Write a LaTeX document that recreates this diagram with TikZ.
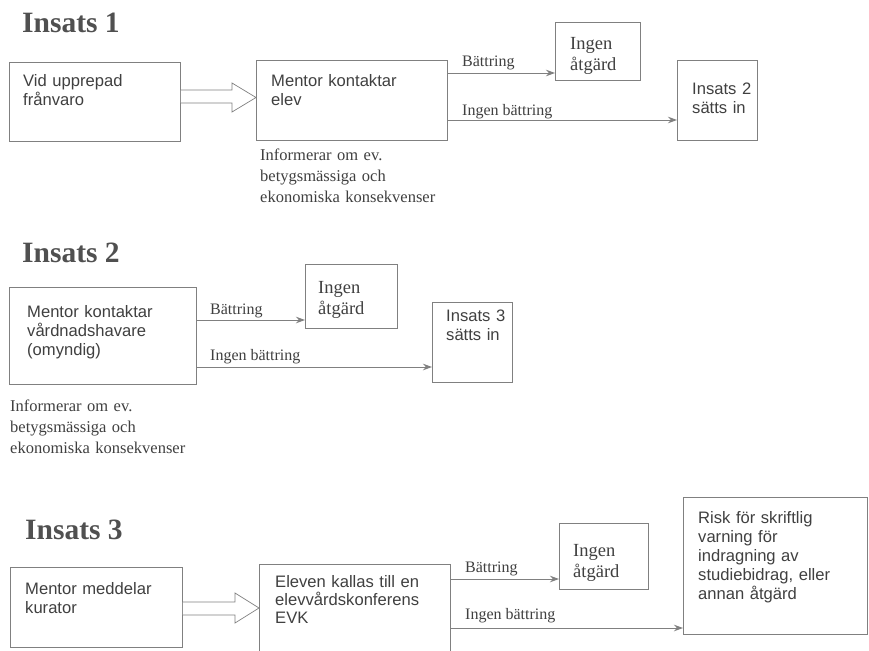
\documentclass[tikz,border=0pt]{standalone}
\usepackage{fontspec}
\setmainfont{Liberation Serif}
\setsansfont{Liberation Sans}
\usetikzlibrary{calc,arrows.meta}
\definecolor{ln}{HTML}{808080}
\definecolor{tx}{HTML}{404040}
\definecolor{tt}{HTML}{505050}
\begin{document}
\begin{tikzpicture}[x=1pt,y=-1pt,
  box/.style={draw=ln, line width=0.8pt, anchor=north west, inner sep=0pt},
  stxt/.style={font=\sffamily\fontsize{16.6}{19}\selectfont, text=tx, anchor=base west, inner sep=0pt, text width=#1, align=left},
  rtxt/.style={font=\fontsize{18.5}{21}\selectfont, text=tx, anchor=base west, inner sep=0pt, text width=#1, align=left},
  itxt/.style={font=\fontsize{16.5}{21}\selectfont, text=tx, anchor=base west, inner sep=0pt, text width=#1, align=left},
  lbl/.style={font=\fontsize{16}{18}\selectfont, text=tx, anchor=base west, inner sep=0pt},
  ttl/.style={font=\bfseries\fontsize{29.5}{34}\selectfont, text=tt, anchor=base west, inner sep=0pt},
  arr/.style={draw=ln, line width=0.9pt, -{Stealth[length=9pt,width=6.5pt]}},
  blk/.style={draw=ln, line width=0.7pt, fill=white, line join=miter}]
\useasboundingbox[fill=white] (0,0) rectangle (869,650);

% ---------- Insats 1 ----------
\node[ttl] (t1) at (22,33) {Insats 1};
\node[box, minimum width=171pt, minimum height=79pt] (a1) at (9,62) {};
\node[box, minimum width=191pt, minimum height=80pt] (m1) at (256,60) {};
\node[box, minimum width=85pt, minimum height=58pt] (i1) at (555,22) {};
\node[box, minimum width=80pt, minimum height=80pt] (s2) at (677,60) {};
\node[stxt=150pt] (a1t) at (23,87) {Vid upprepad\\frånvaro};
\node[stxt=170pt] (m1t) at (271,87) {Mentor kontaktar\\elev};
\node[rtxt=70pt] (i1t) at (570,50) {Ingen\\åtgärd};
\node[stxt=70pt] (s2t) at (692,95) {Insats 2\\sätts in};
\node[itxt=220pt] (inf1) at (260,160) {Informerar om ev.\\betygsmässiga och\\ekonomiska konsekvenser};
\draw[blk] ($(a1.north east)+(0,28)$) -- (232,90) -- (232,83) -- (m1.west |- 0,97.5) -- (232,112) -- (232,103) -- ($(a1.north east)+(0,41)$);
\draw[arr] (m1.east |- 0,73) -- (i1.west |- 0,73);
\draw[arr] (m1.east |- 0,120) -- (s2.west |- 0,120);
\node[lbl] (l1a) at (462,67) {Bättring};
\node[lbl] (l1b) at (462,115) {Ingen bättring};

% ---------- Insats 2 ----------
\node[ttl] (t2) at (22,262) {Insats 2};
\node[box, minimum width=187pt, minimum height=97pt] (m2) at (9,287) {};
\node[box, minimum width=92pt, minimum height=64pt] (i2) at (305,264) {};
\node[box, minimum width=80pt, minimum height=80pt] (s3) at (432,302) {};
\node[stxt=180pt] (m2t) at (27,317) {Mentor kontaktar\\vårdnadshavare\\(omyndig)};
\node[rtxt=70pt] (i2t) at (318,293) {Ingen\\åtgärd};
\node[stxt=70pt] (s3t) at (446,321) {Insats 3\\sätts in};
\node[itxt=220pt] (inf2) at (10,411) {Informerar om ev.\\betygsmässiga och\\ekonomiska konsekvenser};
\draw[arr] (m2.east |- 0,320) -- (i2.west |- 0,320);
\draw[arr] (m2.east |- 0,367) -- (s3.west |- 0,367);
\node[lbl] (l2a) at (210,314) {Bättring};
\node[lbl] (l2b) at (210,360) {Ingen bättring};

% ---------- Insats 3 ----------
\node[ttl] (t3) at (25,539) {Insats 3};
\node[box, minimum width=172pt, minimum height=80pt] (a3) at (10,567) {};
\node[box, minimum width=191pt, minimum height=100pt] (e3) at (259,564) {};
\node[box, minimum width=89pt, minimum height=66pt] (i3) at (559,523) {};
\node[box, minimum width=184pt, minimum height=137pt] (r3) at (683,497) {};
\node[stxt=160pt] (a3t) at (25,594) {Mentor meddelar\\kurator};
\node[stxt=185pt, font=\sffamily\fontsize{16.6}{18}\selectfont] (e3t) at (275,587) {Eleven kallas till en\\elevvårdskonferens\\EVK};
\node[rtxt=70pt] (i3t) at (573,556) {Ingen\\åtgärd};
\node[stxt=170pt] (r3t) at (698,523) {Risk för skriftlig\\varning för\\indragning av\\studiebidrag, eller\\annan åtgärd};
\draw[blk] ($(a3.north east)+(0,35)$) -- (235,602) -- (235,593) -- (e3.west |- 0,608) -- (235,623) -- (235,615) -- ($(a3.north east)+(0,48)$);
\draw[arr] (e3.east |- 0,579) -- (i3.west |- 0,579);
\draw[arr] (e3.east |- 0,628) -- (r3.west |- 0,628);
\node[lbl] (l3a) at (465,572) {Bättring};
\node[lbl] (l3b) at (465,619) {Ingen bättring};
\end{tikzpicture}
\end{document}
